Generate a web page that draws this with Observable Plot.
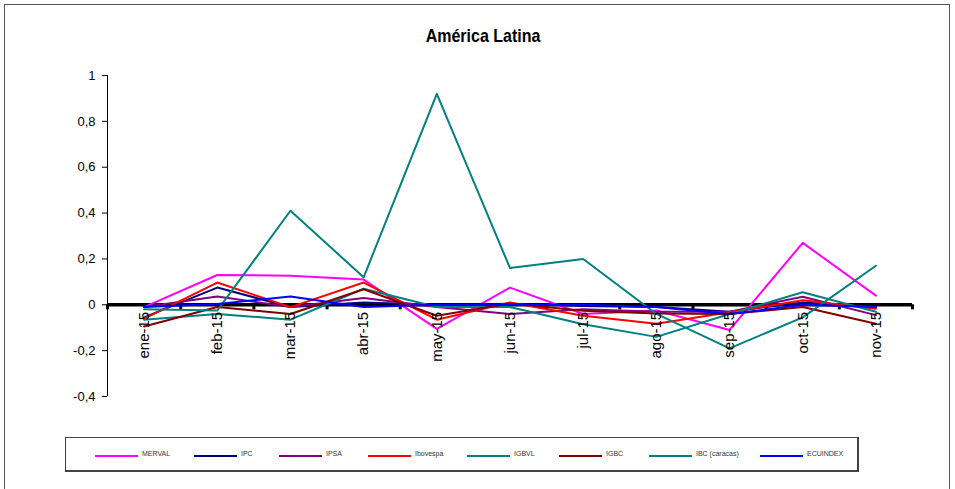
<!DOCTYPE html>
<html>
<head>
<meta charset="utf-8">
<script src="https://cdn.jsdelivr.net/npm/d3@7"></script>
<script src="https://cdn.jsdelivr.net/npm/@observablehq/plot@0.6"></script>
<style>
  html, body { margin: 0; padding: 0; background: #fff; }
  #wrap { position: relative; width: 955px; height: 489px; overflow: hidden; font-family: "Liberation Sans", Arial, sans-serif; }
  #frame { position: absolute; left: 4px; top: 4px; width: 946px; height: 500px; border: 1px solid #555; box-sizing: border-box; }
  #title { position: absolute; left: 0; width: 966px; top: 27px; text-align: center; font-weight: bold; font-size: 16px; color: #000; transform: scaleY(1.12); }
  #chart { position: absolute; left: 0; top: 0; }
  #legend { position: absolute; left: 65px; top: 437px; width: 794px; height: 35px; border: 1px solid #444; border-right-width: 2px; border-bottom-width: 2px; box-sizing: border-box; }
  .li { position: absolute; top: 0; height: 33px; }
  .li .sw { position: absolute; top: 17px; width: 43px; height: 0; border-top: 2px solid; }
  .li .tx { position: absolute; top: 12px; font-size: 7px; white-space: nowrap; color: #333; }
</style>
</head>
<body>
<div id="wrap">
  <div id="frame"></div>
  <div id="chart"></div>
  <div id="title">América Latina</div>
  <div id="legend"></div>
</div>
<script>
// ---- data ----
const categories = ["ene-15","feb-15","mar-15","abr-15","may-15","jun-15","jul-15","ago-15","sep-15","oct-15","nov-15"];
const seriesNames = ["MERVAL","IPC","IPSA","Ibovespa","IGBVL","IGBC","IBC (caracas)","ECUINDEX"];
const MERVAL   = [-0.01, 0.13, 0.127, 0.11, -0.105, 0.075, -0.04, -0.025, -0.11, 0.27, 0.04];
const IPC      = [-0.055, 0.075, -0.01, 0.01, 0.0, 0.005, -0.005, -0.01, -0.03, 0.01, -0.01];
const IPSA     = [-0.01, 0.036, -0.01, 0.03, -0.01, -0.04, -0.02, -0.03, -0.03, 0.035, -0.045];
const Ibovespa = [-0.06, 0.097, -0.01, 0.097, -0.065, 0.01, -0.048, -0.083, -0.033, 0.02, -0.017];
const IGBVL    = [-0.065, -0.04, -0.065, 0.07, -0.01, -0.01, -0.085, -0.14, -0.04, 0.055, -0.03];
const IGBC     = [-0.095, -0.01, -0.04, 0.068, -0.048, 0.006, -0.026, -0.038, -0.04, -0.01, -0.083];
const IBC      = [-0.02, -0.025, 0.41, 0.12, 0.92, 0.16, 0.20, -0.04, -0.19, -0.055, 0.17];
const ECUINDEX = [-0.01, 0.003, 0.036, -0.01, 0.0, 0.0, 0.0, -0.01, -0.04, 0.0, -0.01];
const yTicks = [-0.4, -0.2, 0, 0.2, 0.4, 0.6, 0.8, 1];

// ---- styling ----
const seriesValues = [MERVAL, IPC, IPSA, Ibovespa, IGBVL, IGBC, IBC, ECUINDEX];
const colors = ["#FF00FF","#000080","#800080","#FF0000","#008080","#800000","#008080","#0000FF"];
const legendX = [29, 128, 213, 302, 401, 493, 583, 694];

const boundaries = categories.map((_, i) => i - 0.5).concat([categories.length - 0.5]);
const n = categories.length;

const lineMarks = seriesValues.map((vals, k) =>
  Plot.line(vals, {x: (d, i) => i, y: d => d, stroke: colors[k], strokeWidth: 2})
);

const chart = Plot.plot({
  width: 955,
  height: 489,
  marginLeft: 107,
  marginRight: 43,
  marginTop: 75,
  marginBottom: 93,
  style: {background: "transparent", fontFamily: "'Liberation Sans', Arial, sans-serif", color: "#000"},
  x: {domain: [-0.5, n - 0.5], axis: null},
  y: {domain: [-0.4, 1], axis: null},
  marks: [
    Plot.axisY({ticks: yTicks, tickSize: 5, tickPadding: 7, fontSize: 13, label: null,
      tickFormat: d => String(d).replace(".", ",")}),
    Plot.ruleX([-0.5], {y1: -0.4, y2: 1, stroke: "#000", strokeWidth: 1}),
    Plot.ruleY([0], {x1: -0.5, x2: n - 0.5, stroke: "#000", strokeWidth: 3.5}),
    Plot.ruleX(boundaries, {x: d => d, y1: 0, y2: -0.022, stroke: "#000", strokeWidth: 3}),
    ...lineMarks,
    Plot.text(categories, {x: (d, i) => i, y: 0, text: d => d, rotate: -90, textAnchor: "end",
      dy: 7, fontSize: 15, fill: "#000"})
  ]
});
document.getElementById("chart").appendChild(chart);

// ---- legend ----
const legend = document.getElementById("legend");
seriesNames.forEach((name, k) => {
  const item = document.createElement("div");
  item.className = "li";
  item.style.left = legendX[k] + "px";
  const sw = document.createElement("div");
  sw.className = "sw";
  sw.style.borderTopColor = colors[k];
  const tx = document.createElement("div");
  tx.className = "tx";
  tx.style.left = "47px";
  tx.textContent = name;
  item.appendChild(sw);
  item.appendChild(tx);
  legend.appendChild(item);
});
</script>
</body>
</html>
